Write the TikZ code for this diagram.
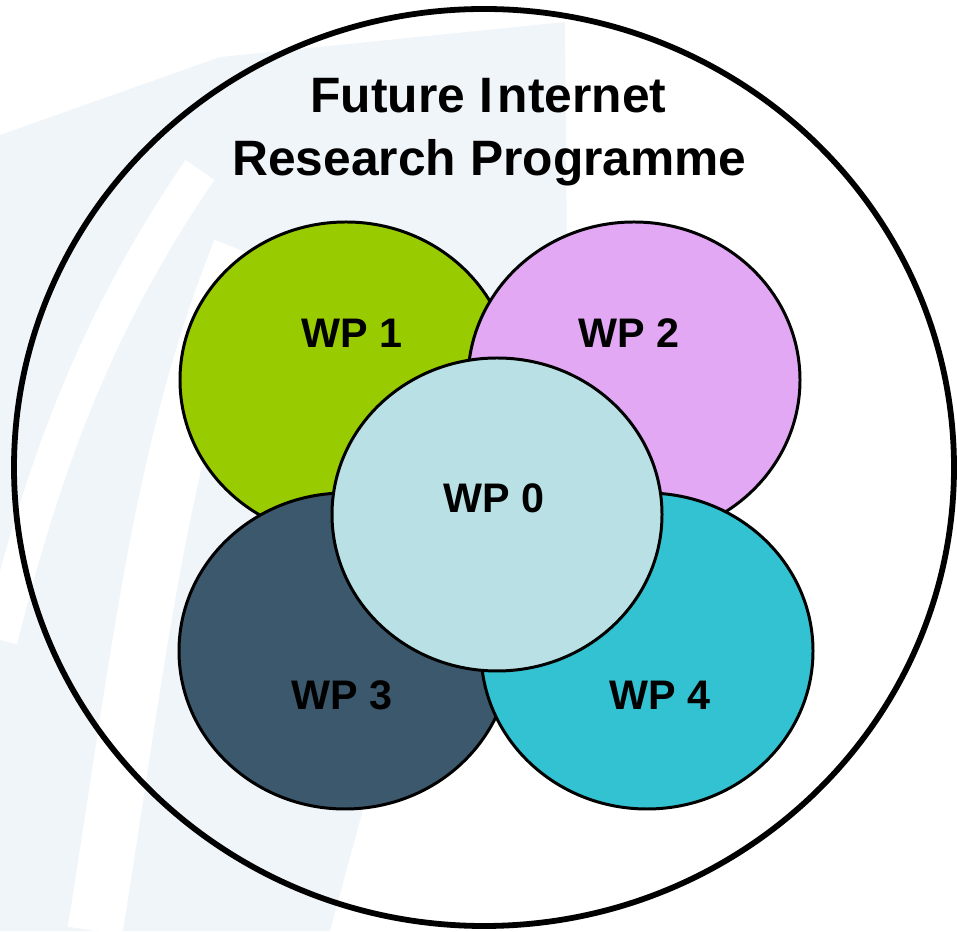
\documentclass[tikz,border=0pt]{standalone}
\usepackage{fontspec}
\setmainfont{Liberation Sans}
\usetikzlibrary{shapes.geometric}

\definecolor{wmark}{RGB}{240,245,250}
\definecolor{wpgreen}{RGB}{153,204,0}
\definecolor{wplilac}{RGB}{226,168,244}
\definecolor{wpslate}{RGB}{60,88,108}
\definecolor{wpcyan}{RGB}{51,194,209}
\definecolor{wppale}{RGB}{185,224,228}

\tikzset{
	wpcircle/.style={ellipse, draw=black, line width=1.7pt, inner sep=0pt,
		minimum width=6.64cm, minimum height=6.32cm},
	wplabel/.style={anchor=base, inner sep=0pt, font=\fontsize{23.5}{28}\selectfont\bfseries},
	titlelabel/.style={anchor=base, inner sep=0pt, font=\fontsize{28.3}{33}\selectfont\bfseries}
}

\begin{document}
\begin{tikzpicture}
	\useasboundingbox (0,0) rectangle (19.14,18.62);

	% watermark
	\fill[wmark] (0,15.92) -- (4.4,17.48) -- (11.3,18.18) -- (11.34,13.42) -- (10.4,12.02)
		-- (8.4,6.62) -- (6.6,0) -- (0,0) -- cycle;
	\draw[white, line width=0.7cm] (0,5.82) .. controls (0.8,9.02) and (1.8,12.02) .. (4,15.22);
	\draw[white, line width=1.1cm] (1.9,0) .. controls (2.8,5.62) and (3.2,9.62) .. (4.8,13.62);

	% programme
	\node[ellipse, draw=black, line width=3.3pt, inner sep=0pt,
		minimum width=18.8cm, minimum height=18.34cm] (prog) at (9.68,9.27) {};
	\node[titlelabel] (title1) at (9.77,16.36) {Future I\kern0.1em nternet};
	\node[titlelabel] (title2) at (9.79,15.1) {Research Programme};

	% work packages
	\node[wpcircle, fill=wpgreen] (wp1) at (6.92,11.02) {};
	\node[wpcircle, fill=wplilac] (wp2) at (12.68,11.02) {};
	\node[wpcircle, fill=wpslate] (wp3) at (6.9,5.6) {};
	\node[wpcircle, fill=wpcyan] (wp4) at (12.94,5.6) {};
	\node[wpcircle, fill=wppale, minimum width=6.6cm, minimum height=6.26cm] (wp0) at (9.94,8.33) {};

	\node[wplabel] (wp1txt) at (7.04,11.66) {WP 1};
	\node[wplabel] (wp2txt) at (12.58,11.66) {WP 2};
	\node[wplabel] (wp3txt) at (6.84,4.42) {WP 3};
	\node[wplabel] (wp4txt) at (13.2,4.42) {WP 4};
	\node[wplabel] (wp0txt) at (9.88,8.36) {WP 0};
\end{tikzpicture}
\end{document}
